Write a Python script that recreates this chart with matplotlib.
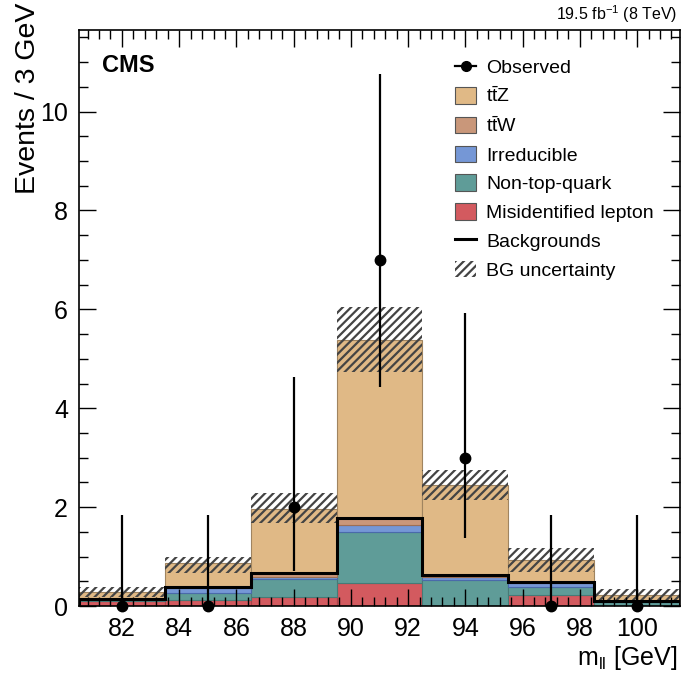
import numpy as np
import matplotlib
matplotlib.use("Agg")
import matplotlib.pyplot as plt
from matplotlib.patches import Patch
from matplotlib.lines import Line2D
from matplotlib.ticker import MultipleLocator

plt.rcParams['font.family'] = ['Liberation Sans', 'DejaVu Sans']
plt.rcParams['mathtext.fontset'] = 'custom'
plt.rcParams['mathtext.rm'] = 'Liberation Sans'
plt.rcParams['mathtext.it'] = 'Liberation Sans:italic'
plt.rcParams['mathtext.bf'] = 'Liberation Sans:bold'
plt.rcParams['hatch.color'] = '#444444'
plt.rcParams['hatch.linewidth'] = 1.6

# ---- data ----
bin_centers = [82, 85, 88, 91, 94, 97, 100]
bin_width = 3.0
misid = [0.11, 0.12, 0.19, 0.46, 0.00, 0.22, 0.00]
nontop = [0.02, 0.14, 0.35, 1.04, 0.53, 0.17, 0.08]
irred = [0.01, 0.10, 0.05, 0.14, 0.05, 0.07, 0.02]
ttw = [0.01, 0.02, 0.08, 0.14, 0.04, 0.02, 0.005]
ttz = [0.13, 0.48, 1.30, 3.59, 1.82, 0.45, 0.125]
unc_lo = [0.19, 0.67, 1.67, 4.73, 2.14, 0.69, 0.13]
unc_hi = [0.38, 0.99, 2.29, 6.04, 2.75, 1.17, 0.34]
observed = [0, 0, 2, 7, 3, 0, 0]
obs_err_lo = [0.0, 0.0, 0.71, 4.42, 1.37, 0.0, 0.0]
obs_err_hi = [1.84, 1.84, 4.64, 10.77, 5.92, 1.84, 1.84]
xticks = [82, 84, 86, 88, 90, 92, 94, 96, 98, 100]
yticks = [0, 2, 4, 6, 8, 10]

labels = ['Observed', r'$\mathrm{t\bar{t}Z}$', r'$\mathrm{t\bar{t}W}$', 'Irreducible',
          'Non-top-quark', 'Misidentified lepton', 'Backgrounds', 'BG uncertainty']
c_ttz = '#E0B986'
c_ttw = '#C9977A'
c_irr = '#7597D6'
c_nt = '#5F9C98'
c_mis = '#D35A5F'

W, H = 681, 677
fig = plt.figure(figsize=(W / 100, H / 100), dpi=100)
ax = fig.add_axes([79 / W, 1 - 606 / H, (680 - 79) / W, (606 - 30) / H])

x = np.array(bin_centers, dtype=float)
edges = np.concatenate([x - bin_width / 2, [x[-1] + bin_width / 2]])
comps = [(misid, c_mis, '#a8454a'), (nontop, c_nt, '#477a76'), (irred, c_irr, '#4a6aaa'),
         (ttw, c_ttw, '#9c6f55'), (ttz, c_ttz, '#a08460')]
bottom = np.zeros(len(x))
for vals, col, ec in comps:
    v = np.array(vals)
    ax.bar(x, v, width=bin_width, bottom=bottom, color=col, edgecolor=ec,
           linewidth=0.8, zorder=1)
    bottom = bottom + v

lo = np.array(unc_lo)
hi = np.array(unc_hi)
ax.bar(x, hi - lo, width=bin_width, bottom=lo, facecolor='none', edgecolor='#444444',
       linewidth=0, hatch='////', zorder=1.5)

bkg = np.array(misid) + np.array(nontop) + np.array(irred) + np.array(ttw)
ax.stairs(bkg, edges, color='black', linewidth=2.2, zorder=1.8)

obs = np.array(observed, dtype=float)
yerr = [obs - np.array(obs_err_lo), np.array(obs_err_hi) - obs]
ax.errorbar(x, obs, yerr=yerr, fmt='o', color='black', ms=7.5, elinewidth=1.6,
            capsize=0, zorder=5, clip_on=False)

ax.set_xlim(80.5, 101.5)
ax.set_ylim(0, 11.65)
ax.set_xticks(xticks)
ax.set_yticks(yticks)
ax.xaxis.set_minor_locator(MultipleLocator(0.4))
ax.yaxis.set_minor_locator(MultipleLocator(0.5))
ax.tick_params(which='both', direction='in', top=True, right=True, width=1.0)
ax.tick_params(which='major', length=12.5, labelsize=18, pad=8)
ax.tick_params(which='minor', length=6.5)
for s in ax.spines.values():
    s.set_linewidth(1.2)

fig.text(28 / W, 1 - 3 / H, 'Events / 3 GeV', rotation=90, ha='center', va='top', fontsize=20.5)
fig.text(678 / W, 1 - 665 / H, r'm$_{\mathrm{ll}}$ [GeV]', ha='right', va='baseline', fontsize=18)
fig.text(102 / W, 1 - 72 / H, 'CMS', ha='left', va='baseline', fontsize=17, fontweight='bold')
fig.text(677 / W, 1 - 20 / H, r'19.5 fb$^{-1}$ (8 TeV)', ha='right', va='baseline', fontsize=11.5)

handles = [
    Line2D([], [], color='black', marker='o', ms=7, lw=1.6),
    Patch(facecolor=c_ttz, edgecolor='#555555', lw=0.8),
    Patch(facecolor=c_ttw, edgecolor='#555555', lw=0.8),
    Patch(facecolor=c_irr, edgecolor='#555555', lw=0.8),
    Patch(facecolor=c_nt, edgecolor='#555555', lw=0.8),
    Patch(facecolor=c_mis, edgecolor='#555555', lw=0.8),
    Line2D([], [], color='black', lw=2.2),
    Patch(facecolor='white', edgecolor='#444444', hatch='////', lw=0),
]
leg = ax.legend(handles, labels, loc='upper left',
                bbox_to_anchor=((455 - 79) / 601, 1 - (58 - 30) / 576),
                frameon=False, fontsize=14, borderpad=0, borderaxespad=0,
                handlelength=1.1, handleheight=0.95, handletextpad=0.5,
                labelspacing=0.5)

fig.savefig('out.png', dpi=100)
